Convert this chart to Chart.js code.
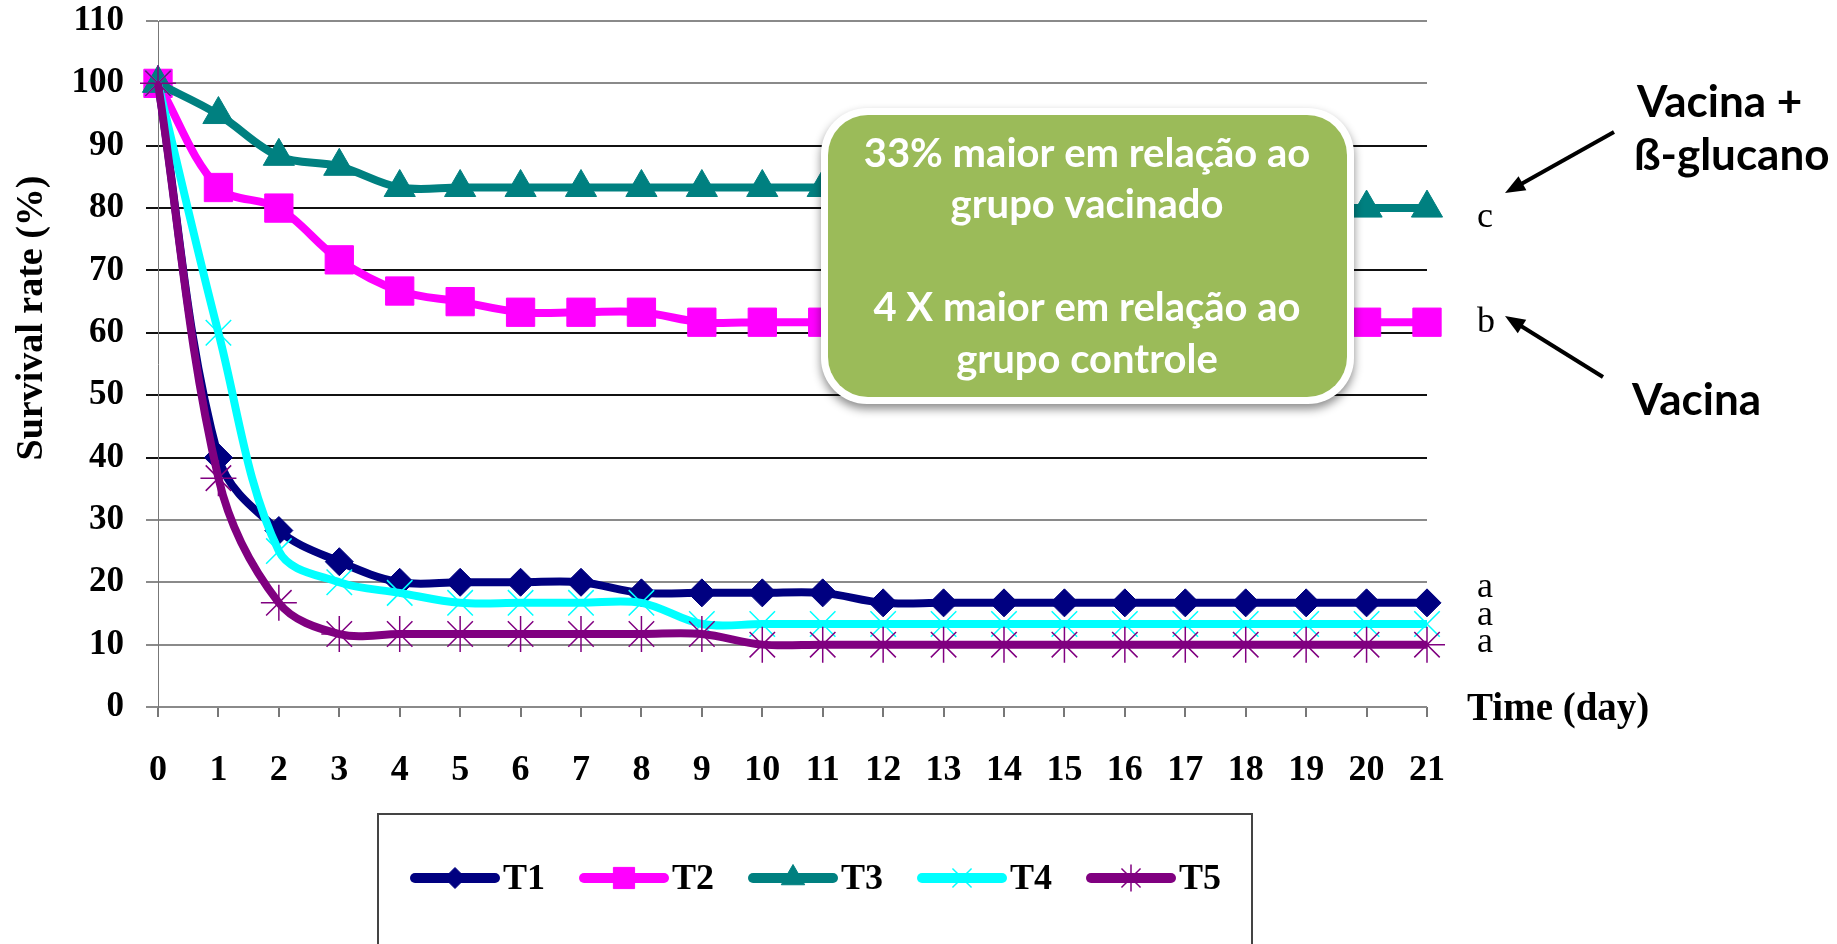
<!DOCTYPE html>
<html lang="pt">
<head>
    <meta charset="UTF-8">
    <title>Survival rate</title>
    <script src="https://cdn.jsdelivr.net/npm/chart.js"></script>
    <style>
        html, body { margin: 0; padding: 0; background: #fff; }
    </style>
</head>
<body>
    <canvas id="grafico" width="1837" height="944"></canvas>

    <script>
        // dados
        const days = ['0','1','2','3','4','5','6','7','8','9','10','11','12','13','14','15','16','17','18','19','20','21'];
        const seriesNames = ['T1', 'T2', 'T3', 'T4', 'T5'];
        const t1 = [100, 40, 28.3, 23.3, 20, 20, 20, 20, 18.3, 18.3, 18.3, 18.3, 16.7, 16.7, 16.7, 16.7, 16.7, 16.7, 16.7, 16.7, 16.7, 16.7];
        const t2 = [100, 83.3, 80, 71.7, 66.7, 65, 63.3, 63.3, 63.3, 61.7, 61.7, 61.7, 61.7, 61.7, 61.7, 61.7, 61.7, 61.7, 61.7, 61.7, 61.7, 61.7];
        const t3 = [100, 95, 88.3, 86.7, 83.3, 83.3, 83.3, 83.3, 83.3, 83.3, 83.3, 83.3, 83.3, 83.3, 83.3, 80, 80, 80, 80, 80, 80, 80];
        const t4 = [100, 60, 25, 20, 18.3, 16.7, 16.7, 16.7, 16.7, 13.3, 13.3, 13.3, 13.3, 13.3, 13.3, 13.3, 13.3, 13.3, 13.3, 13.3, 13.3, 13.3];
        const t5 = [100, 36.7, 16.7, 11.7, 11.7, 11.7, 11.7, 11.7, 11.7, 11.7, 10, 10, 10, 10, 10, 10, 10, 10, 10, 10, 10, 10];
        const yMin = 0, yMax = 110, yStep = 10;

        // letras de significância ao fim das curvas
        const letters = ['c', 'b', 'a', 'a', 'a'];
        const letterValues = [78.5, 61.7, 19.2, 14.6, 10.4];

        // textos do quadro e das setas
        const boxLines = ['33% maior em relação ao', 'grupo vacinado', '', '4 X maior em relação ao', 'grupo controle'];
        const sideNotes = ['Vacina +', 'ß-glucano', 'Vacina'];

        const serif = '"Liberation Serif", "Times New Roman", serif';
        const sans = 'Lato, "Open Sans", sans-serif';

        const colors = ['#000080', '#ff00ff', '#008080', '#00ffff', '#800080'];
        const styles = ['rectRot', 'rect', 'triangle', 'crossRot', 'star'];
        const radii = [14, 20, 18, 18, 18];
        const borders = [1, 1, 1, 1.5, 1.5];
        const values = [t1, t2, t3, t4, t5];

        const datasets = values.map((v, i) => ({
            label: seriesNames[i],
            data: v,
            borderColor: colors[i],
            backgroundColor: colors[i],
            borderWidth: 8,
            tension: 0.35,
            pointStyle: styles[i],
            pointRadius: radii[i],
            pointBackgroundColor: colors[i],
            pointBorderColor: colors[i],
            pointBorderWidth: borders[i],
            order: 5 - i
        }));

        function seta(ctx, x1, y1, x2, y2) {
            const ang = Math.atan2(y2 - y1, x2 - x1);
            const len = 20;
            ctx.strokeStyle = '#000';
            ctx.fillStyle = '#000';
            ctx.lineWidth = 4;
            ctx.beginPath();
            ctx.moveTo(x1, y1);
            ctx.lineTo(x2 - Math.cos(ang) * len * 0.8, y2 - Math.sin(ang) * len * 0.8);
            ctx.stroke();
            ctx.beginPath();
            ctx.moveTo(x2, y2);
            ctx.lineTo(x2 - len * Math.cos(ang) + 8 * Math.sin(ang), y2 - len * Math.sin(ang) - 8 * Math.cos(ang));
            ctx.lineTo(x2 - len * Math.cos(ang) - 8 * Math.sin(ang), y2 - len * Math.sin(ang) + 8 * Math.cos(ang));
            ctx.closePath();
            ctx.fill();
        }

        function roundRect(ctx, x, y, w, h, r) {
            ctx.beginPath();
            ctx.moveTo(x + r, y);
            ctx.arcTo(x + w, y, x + w, y + h, r);
            ctx.arcTo(x + w, y + h, x, y + h, r);
            ctx.arcTo(x, y + h, x, y, r);
            ctx.arcTo(x, y, x + w, y, r);
            ctx.closePath();
        }

        // desenha títulos, quadro verde, setas, letras e legenda
        const extras = {
            id: 'extras',
            afterDraw(chart) {
                const ctx = chart.ctx;
                const xs = chart.scales.x, ys = chart.scales.y;
                ctx.save();

                // título do eixo y
                ctx.save();
                ctx.translate(32, 318);
                ctx.rotate(-Math.PI / 2);
                ctx.font = 'bold 38px ' + serif;
                ctx.fillStyle = '#000';
                ctx.textAlign = 'center';
                ctx.textBaseline = 'middle';
                ctx.fillText('Survival rate (%)', 0, 0);
                ctx.restore();

                // título do eixo x
                ctx.font = 'bold 39px ' + serif;
                ctx.fillStyle = '#000';
                ctx.textAlign = 'left';
                ctx.textBaseline = 'middle';
                ctx.fillText('Time (day)', 1467, 710);

                // letras
                ctx.font = '36px ' + serif;
                const lastX = xs.getPixelForValue(days.length - 1);
                letters.forEach((l, i) => {
                    ctx.fillText(l, lastX + 50, ys.getPixelForValue(letterValues[i]));
                });

                // quadro verde
                ctx.save();
                ctx.shadowColor = 'rgba(0,0,0,0.45)';
                ctx.shadowBlur = 10;
                ctx.shadowOffsetY = 5;
                roundRect(ctx, 821, 108, 533, 296, 46);
                ctx.fillStyle = '#ffffff';
                ctx.fill();
                ctx.restore();
                roundRect(ctx, 828, 115, 519, 282, 40);
                ctx.fillStyle = '#9bbb59';
                ctx.fill();
                ctx.font = 'bold 40px ' + sans;
                ctx.fillStyle = '#ffffff';
                ctx.textAlign = 'center';
                boxLines.forEach((t, i) => {
                    ctx.fillText(t, 1087, 154 + i * 51.5);
                });

                // notas laterais e setas
                ctx.font = 'bold 44px ' + sans;
                ctx.fillStyle = '#000';
                ctx.textAlign = 'left';
                ctx.fillText(sideNotes[0], 1637, 103);
                ctx.fillText(sideNotes[1], 1634, 156);
                ctx.fillText(sideNotes[2], 1632, 401);
                seta(ctx, 1614, 132, 1505, 193);
                seta(ctx, 1603, 377, 1505, 316);

                // legenda
                ctx.strokeStyle = '#444';
                ctx.lineWidth = 2;
                ctx.strokeRect(378, 814, 874, 140);
                const ly = 878;
                chart.data.datasets.forEach((ds, i) => {
                    const x0 = 415 + i * 169;
                    ctx.strokeStyle = ds.borderColor;
                    ctx.lineWidth = 10;
                    ctx.lineCap = 'round';
                    ctx.beginPath();
                    ctx.moveTo(x0, ly);
                    ctx.lineTo(x0 + 80, ly);
                    ctx.stroke();
                    ctx.lineCap = 'butt';
                    ctx.fillStyle = ds.pointBackgroundColor;
                    ctx.strokeStyle = ds.pointBorderColor;
                    ctx.lineWidth = ds.pointBorderWidth;
                    Chart.helpers.drawPoint(ctx, {
                        pointStyle: ds.pointStyle,
                        radius: ds.pointRadius * 0.75,
                        borderWidth: ds.pointBorderWidth,
                        rotation: 0
                    }, x0 + 40, ly);
                    ctx.fillStyle = '#000';
                    ctx.font = 'bold 36px ' + serif;
                    ctx.textAlign = 'left';
                    ctx.fillText(ds.label, x0 + 88, ly + 2);
                });

                ctx.restore();
            }
        };

        const ctx = document.getElementById('grafico').getContext('2d');
        const grafico = new Chart(ctx, {
            type: 'line',
            data: { labels: days, datasets: datasets },
            options: {
                responsive: false,
                animation: false,
                layout: { padding: { left: 0, right: 410, top: 0, bottom: 0 } },
                plugins: { legend: { display: false }, tooltip: { enabled: false } },
                scales: {
                    x: {
                        offset: false,
                        grid: { drawOnChartArea: false, tickLength: 10, color: '#777', lineWidth: 2 },
                        border: { display: false },
                        ticks: {
                            autoSkip: false, maxRotation: 0, padding: 32, color: '#000',
                            font: { family: serif, size: 36, weight: 'bold' }
                        },
                        afterFit: (s) => { s.height = 237; }
                    },
                    y: {
                        min: yMin,
                        max: yMax,
                        grid: {
                            tickLength: 12,
                            lineWidth: 2,
                            color: (c) => (c.tick && c.tick.value >= 40 && c.tick.value <= 90) ? '#111' : '#8a8a8a'
                        },
                        border: { color: '#777', width: 1 },
                        ticks: {
                            stepSize: yStep, padding: 22, color: '#000',
                            font: { family: serif, size: 35, weight: 'bold' }
                        },
                        afterFit: (s) => { s.width = 158; s.paddingTop = 21; s.paddingBottom = 0; }
                    }
                }
            },
            plugins: [extras]
        });
    </script>
</body>
</html>
